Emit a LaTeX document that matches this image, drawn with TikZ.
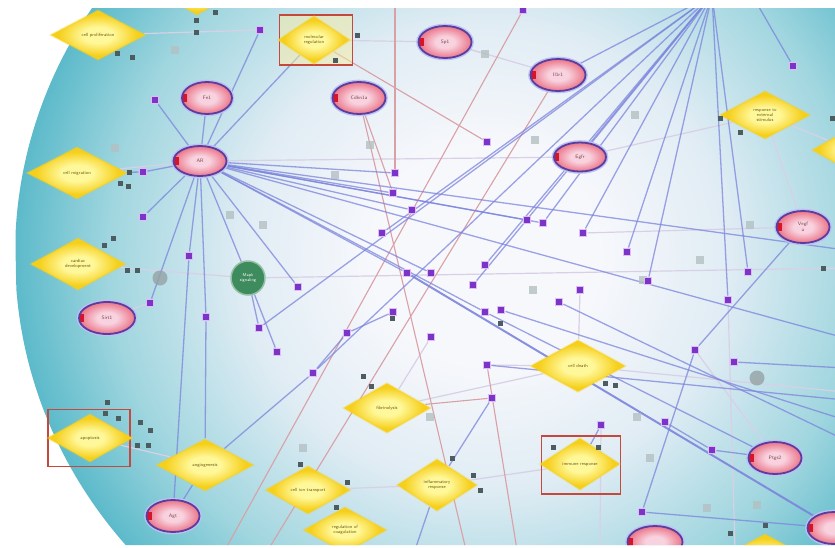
\documentclass[tikz,border=0pt]{standalone}
\usetikzlibrary{shapes.geometric}
\pgfdeclarelayer{back}
\pgfdeclarelayer{edges}
\pgfsetlayers{back,edges,main}
\definecolor{teal1}{HTML}{5CBACA}
\definecolor{teal2}{HTML}{A0D6DF}
\definecolor{lite}{HTML}{E0ECF4}
\definecolor{cen}{HTML}{F7F8FC}
\definecolor{blu}{HTML}{7C84DC}
\definecolor{pnk}{HTML}{D9A0A6}
\definecolor{lav}{HTML}{D8D0E6}
\definecolor{dyel}{HTML}{F6CF1A}
\definecolor{lyel}{HTML}{FFF89A}
\definecolor{gpk}{HTML}{F8D2DE}
\definecolor{gpo}{HTML}{EC7A8E}
\definecolor{gbd}{HTML}{5A3E9E}
\definecolor{halo}{HTML}{BCC0F4}
\definecolor{gred}{HTML}{D4152C}
\definecolor{pur}{HTML}{7B34C6}
\definecolor{purh}{HTML}{DDBDF5}
\definecolor{gry}{HTML}{B4C0C2}
\definecolor{dgr}{HTML}{4D5C5E}
\definecolor{rbox}{HTML}{C4493C}
\definecolor{grn}{HTML}{3E8C5E}
\definecolor{dtx}{HTML}{6B5A1A}
\definecolor{gtx}{HTML}{7A4A50}
\pgfdeclareradialshading{bgsh}{\pgfpoint{0bp}{0bp}}{color(0bp)=(cen); color(6bp)=(cen); color(13bp)=(lite); color(20bp)=(teal2); color(25bp)=(teal1); color(50bp)=(teal1)}
\pgfdeclareradialshading{ysh}{\pgfpoint{0bp}{0bp}}{color(0bp)=(lyel); color(8bp)=(lyel); color(21bp)=(dyel); color(50bp)=(dyel)}
\pgfdeclareradialshading{gsh}{\pgfpoint{0bp}{0bp}}{color(0bp)=(gpk); color(9bp)=(gpk); color(24bp)=(gpo); color(50bp)=(gpo)}
\begin{document}
\begin{tikzpicture}[x=1pt,y=-1pt,
 dia/.style={diamond, shading=ysh, draw=dyel, draw opacity=0.35, line width=2pt, inner sep=0pt, align=center, font=\fontsize{4.6}{5.2}\selectfont\sffamily, text=dtx},
 gene/.style={ellipse, shading=gsh, draw=gbd, line width=1.8pt, preaction={draw=halo, line width=4.6pt}, minimum width=53pt, minimum height=32pt, inner sep=0pt, align=center, font=\fontsize{5}{5.6}\selectfont\sffamily, text=gtx, path picture={\fill[gred] ([xshift=-1pt,yshift=-4pt]path picture bounding box.west) rectangle ++(6pt,8pt);}},
 psq/.style={rectangle, fill=pur, draw=purh, line width=1.4pt, minimum size=7.5pt, inner sep=0pt},
 gsq/.style={rectangle, fill=gry, fill opacity=.8, minimum size=8pt, inner sep=0pt},
 dsq/.style={rectangle, fill=dgr, minimum size=5pt, inner sep=0pt},
 gblob/.style={circle, fill=gry!70!dgr, minimum size=15pt, inner sep=0pt, opacity=.8},
 rbx/.style={rectangle, draw=rbox, line width=1.6pt, inner sep=0pt},
 bl/.style={draw=blu, line width=1.3pt, draw opacity=.75},
 blt/.style={draw=blu, line width=2pt, draw opacity=.9},
 rd/.style={draw=pnk, line width=1.1pt},
 lt/.style={draw=lav, line width=1.2pt}]
\useasboundingbox (0,0) rectangle (835,547);
% background
\begin{pgfonlayer}{back}
\fill[white] (0,0) rectangle (835,547);
\begin{scope}
\clip (40,8) -- (835,8) -- (835,545) -- (58,545) .. controls (5,400) and (5,150) .. (40,8) -- cycle;
\shade[shading=bgsh] (485,255) ellipse [x radius=470pt, y radius=450pt];
\end{scope}
\end{pgfonlayer}
% nodes
\begin{scope}
\clip (40,8) -- (835,8) -- (835,545) -- (58,545) .. controls (5,400) and (5,150) .. (40,8) -- cycle;
% red boxes
\node[rbx, minimum width=73pt, minimum height=50pt, fill=dyel!40, fill opacity=.5] (bx1) at (316,40) {};
\node[rbx, minimum width=82pt, minimum height=57pt] (bx2) at (89,438) {};
\node[rbx, minimum width=79pt, minimum height=58pt] (bx3) at (581,465) {};
% diamonds
\node[dia, minimum width=95pt, minimum height=50pt] (D1) at (98,35) {cell proliferation};
\node[dia, minimum width=70pt, minimum height=40pt] (D2) at (197,-5) {};
\node[dia, minimum width=100pt, minimum height=52pt] (D3) at (77,173) {cell migration};
\node[dia, minimum width=95pt, minimum height=52pt] (D4) at (78,264) {cardiac\\development};
\node[dia, minimum width=85pt, minimum height=48pt] (D5) at (90,438) {apoptosis};
\node[dia, minimum width=97pt, minimum height=52pt] (D6) at (205,465) {angiogenesis};
\node[dia, minimum width=72pt, minimum height=48pt] (D7) at (314,40) {molecular\\regulation};
\node[dia, minimum width=87pt, minimum height=50pt] (D8) at (387,408) {fibrinolysis};
\node[dia, minimum width=85pt, minimum height=48pt] (D9) at (308,490) {cell ion transport};
\node[dia, minimum width=83pt, minimum height=46pt] (D10) at (345,530) {regulation of\\coagulation};
\node[dia, minimum width=80pt, minimum height=52pt] (D11) at (437,485) {inflammatory\\response};
\node[dia, minimum width=95pt, minimum height=52pt] (D12) at (578,366) {cell death};
\node[dia, minimum width=80pt, minimum height=52pt] (D13) at (580,464) {immune response};
\node[dia, minimum width=90pt, minimum height=48pt] (D14) at (765,115) {response to\\external\\stimulus};
\node[dia, minimum width=80pt, minimum height=45pt] (D15) at (852,150) {};
\node[dia, minimum width=90pt, minimum height=48pt] (D16) at (765,558) {};
% genes
\node[gene] (E1) at (445,42) {Sp1};
\node[gene, minimum width=50pt] (E2) at (207,98) {Fn1};
\node[gene] (E3) at (359,98) {Cdkn1a};
\node[gene, minimum width=55pt] (E4) at (558,75) {Il1r1};
\node[gene, minimum height=30pt] (E5) at (200,161) {AR};
\node[gene, minimum width=52pt, minimum height=29pt] (E6) at (580,157) {Egfr};
\node[gene] (E7) at (803,227) {Vegf\\a};
\node[gene, minimum width=56pt] (E8) at (107,318) {Sirt1};
\node[gene] (E9) at (775,458) {Ptgs2};
\node[gene] (E10) at (173,516) {Agt};
\node[gene, minimum width=55pt] (E11) at (655,542) {};
\node[gene] (E12) at (834,528) {};
\node[circle, fill=grn, draw=grn!55!white, line width=1.5pt, minimum size=34pt, inner sep=0pt, align=center, text=white, font=\fontsize{4.2}{5}\selectfont\sffamily] (G) at (248,278) {Mapk\\signaling};
% grey blobs
\node[gblob] (b1) at (160,278) {};
\node[gblob] (b2) at (757,378) {};
% light grey squares
\foreach \n/\x/\y in {1/175/50, 2/115/148, 3/485/54, 4/335/175, 5/535/140, 6/635/115, 7/750/225, 8/700/260, 9/643/280, 10/533/290, 11/650/458, 12/707/508, 13/757/505, 14/637/417, 15/303/448, 16/230/215, 17/263/225, 18/370/145, 19/430/417}
  \node[gsq] (g\n) at (\x,\y) {};
% dark grey squares
\foreach \n/\x/\y in {1/117/53, 2/132/57, 3/196/20, 4/196/32, 5/215/12, 6/129/172, 7/120/183, 8/128/186, 9/104/245, 10/113/238, 11/127/270, 12/137/270, 13/107/402, 14/105/413, 15/118/418, 16/140/422, 17/150/430, 18/137/445, 19/148/445, 20/357/35, 21/335/60, 22/363/376, 23/371/386, 24/300/464, 25/347/482, 26/336/507, 27/452/458, 28/473/475, 29/480/490, 30/605/383, 31/615/385, 32/553/447, 33/598/447, 34/720/118, 35/740/132, 36/832/118, 37/823/268, 38/730/533, 39/765/525, 40/392/318, 41/500/323}
  \node[dsq] (k\n) at (\x,\y) {};
% purple squares
\foreach \n/\x/\y in {1/260/30, 2/155/100, 3/143/217, 4/189/256, 5/150/303, 6/206/317, 7/298/287, 8/259/328, 9/277/352, 10/313/373, 11/395/173, 12/393/193, 13/412/210, 14/382/233, 15/407/273, 16/431/273, 17/487/142, 18/523/10, 19/527/220, 20/543/223, 21/583/233, 22/485/265, 23/473/285, 24/580/290, 25/393/312, 26/485/312, 27/501/310, 28/559/302, 29/347/333, 30/431/337, 31/487/365, 32/627/252, 33/648/281, 34/748/272, 35/728/300, 36/695/350, 37/734/362, 38/601/425, 39/665/422, 40/712/450, 41/642/512, 42/793/66, 43/492/398, 44/143/172}
  \node[psq] (p\n) at (\x,\y) {};
\end{scope}
% free ends
\coordinate (hT) at (712,-5);
\coordinate (hT2) at (752,-5);
\coordinate (top1) at (395,-5);
\coordinate (r1) at (845,250);
\coordinate (r2) at (845,338);
\coordinate (r3) at (845,420);
\coordinate (r4) at (845,440);
\coordinate (r5) at (845,400);
\coordinate (r6) at (845,368);
\coordinate (r7) at (845,268);
\coordinate (r8) at (845,392);
\coordinate (c1) at (466,550);
\coordinate (c2) at (225,550);
\coordinate (c3) at (268,550);
\coordinate (c5) at (517,550);
\coordinate (c6) at (415,550);
\coordinate (c7) at (600,550);
\coordinate (c8) at (735,550);
% edges
\begin{pgfonlayer}{edges}
\begin{scope}
\clip (40,8) -- (835,8) -- (835,545) -- (58,545) .. controls (5,400) and (5,150) .. (40,8) -- cycle;
% faint lines
\foreach \a/\b in {G/r7, D4/G, D12/p31, D12/p24, D12/r8, D11/D13, D8/D12, E6/D14, E1/E4, D7/E1, p21/E7, D14/E7, E5/E6, D1/p1, E8/p5, D5/D6, D8/p30, p38/c7, p35/c8, D9/D11, g3/E1, D14/D15, p36/E9, D3/E5}
  \draw[lt] (\a) -- (\b);
% pink lines
\foreach \a/\b in {E3/c1, p18/c2, E4/c3, p31/c5, D7/p17, top1/p11, p43/D8, E3/p12}
  \draw[rd] (\a) -- (\b);
% blue lines
\foreach \t in {p1,p2,p3,p44,E2,D7,p4,p5,p6,G,p7,p15,p16,p26,p11,p12,p13,p19,p20,r1,r2}
  \draw[bl] (E5) -- (\t);
\foreach \t in {E4,E6,p14,p20,p22,p23,p8,p10,p21,p32,p33,p35,p34}
  \draw[bl] (hT) -- (\t);
\draw[bl] (hT2) -- (p42);
\foreach \a/\b in {p4/E10, p6/D6, G/p8, G/p9, E10/D6, D6/p10, E7/p36, p36/p41, p26/E9, p28/r4, p31/r5, p37/r6, p38/D13, p43/D11, D11/c6, E9/p40, p41/E12, p29/p10, p27/r3, D3/p44, p25/p29, p39/p40}
  \draw[bl] (\a) -- (\b);
\draw[blt] (p15) -- (E12);
\end{scope}
\end{pgfonlayer}
\end{tikzpicture}
\end{document}
